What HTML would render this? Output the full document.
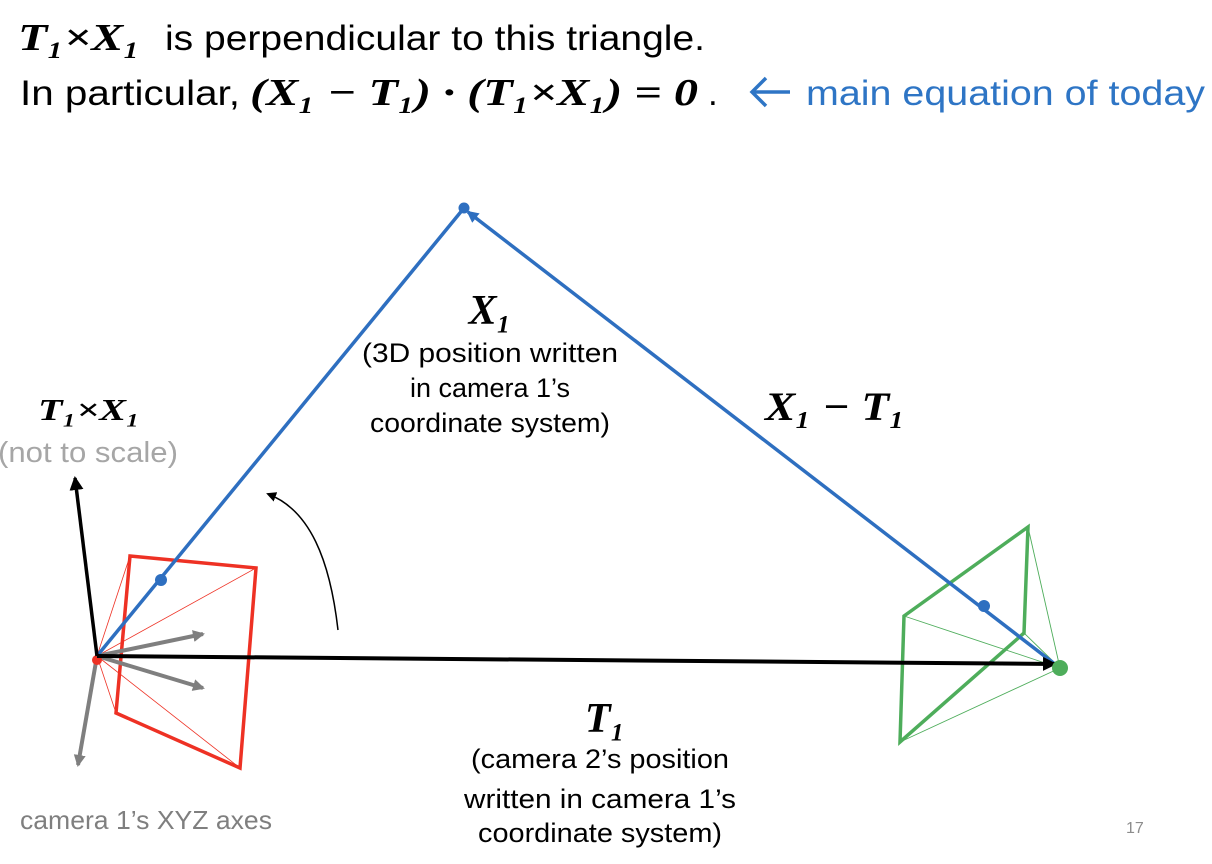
<!DOCTYPE html>
<html><head><meta charset="utf-8"><style>
html,body{margin:0;padding:0;background:#fff;}
svg{display:block;}
text{font-family:"Liberation Sans",sans-serif;}
.m{font-family:"Liberation Serif",serif;font-weight:bold;font-style:italic;}
</style></head><body>
<svg width="1212" height="864" viewBox="0 0 1212 864">
<defs>
<marker id="ab" markerWidth="10" markerHeight="10" refX="8" refY="5" orient="auto" markerUnits="userSpaceOnUse"><path d="M0,0 L10,5 L0,10 Z" fill="#000"/></marker>
<marker id="ag" markerWidth="12" markerHeight="12" refX="10" refY="6" orient="auto" markerUnits="userSpaceOnUse"><path d="M0,0 L12,6 L0,12 Z" fill="#7f7f7f"/></marker>
<marker id="abl" markerWidth="12" markerHeight="12" refX="10" refY="6" orient="auto" markerUnits="userSpaceOnUse"><path d="M0,0 L12,6 L0,12 Z" fill="#2E6FC0"/></marker>
<marker id="ak" markerWidth="14" markerHeight="14" refX="12" refY="7" orient="auto" markerUnits="userSpaceOnUse"><path d="M0,0 L14,7 L0,14 Z" fill="#000"/></marker>
</defs>

<g>
<text x="18" y="50" font-size="38" class="m" textLength="122" lengthAdjust="spacingAndGlyphs">T₁×X₁</text>
<text x="165" y="50" font-size="35" textLength="540" lengthAdjust="spacingAndGlyphs">is perpendicular to this triangle.</text>
<text x="20" y="105" font-size="35" textLength="220" lengthAdjust="spacingAndGlyphs">In particular,</text>
<text x="250" y="105" font-size="38" class="m" textLength="448" lengthAdjust="spacingAndGlyphs">(X₁ − T₁) · (T₁×X₁) = 0</text>
<text x="708" y="105" font-size="35">.</text>
<g stroke="#2E75C5" stroke-width="3.5" fill="none">
<line x1="752" y1="92" x2="790" y2="92"/><polyline points="766,78 752,92 766,106"/>
</g>
<text x="806" y="105" font-size="35" fill="#2E75C5" textLength="399" lengthAdjust="spacingAndGlyphs">main equation of today</text>
</g>

<g>
<polygon points="130,556 256,568 240,768 116,713" fill="none" stroke="#EE3124" stroke-width="3.5"/>
<g stroke="#EE3124" stroke-width="0.8">
<line x1="97" y1="656" x2="130" y2="556"/><line x1="97" y1="656" x2="256" y2="568"/>
<line x1="97" y1="656" x2="240" y2="768"/><line x1="97" y1="656" x2="116" y2="713"/>
</g>
<g stroke="#7f7f7f" stroke-width="4">
<line x1="97" y1="656" x2="203" y2="634" marker-end="url(#ag)"/>
<line x1="97" y1="656" x2="203" y2="688" marker-end="url(#ag)"/>
<line x1="97" y1="656" x2="78" y2="765" marker-end="url(#ag)"/>
</g>
<circle cx="97" cy="660" r="5" fill="#EE3124"/>
</g>

<g>
<polygon points="904,616 1028,527 1024,633 900,742" fill="none" stroke="#4EAD5B" stroke-width="3.5"/>
<g stroke="#4EAD5B" stroke-width="0.9">
<line x1="1060" y1="668" x2="904" y2="616"/><line x1="1060" y1="668" x2="1028" y2="527"/>
<line x1="1060" y1="668" x2="1024" y2="633"/><line x1="1060" y1="668" x2="900" y2="742"/>
</g>
</g>

<line x1="97" y1="656" x2="464" y2="208" stroke="#2E6FC0" stroke-width="3.5"/>
<line x1="1060" y1="668" x2="468" y2="212" stroke="#2E6FC0" stroke-width="3.5" marker-end="url(#abl)"/>
<circle cx="464" cy="208" r="5.5" fill="#2E6FC0"/>
<circle cx="161" cy="580" r="6" fill="#2E6FC0"/>
<circle cx="984" cy="606" r="6" fill="#2E6FC0"/>

<line x1="97" y1="656" x2="1055" y2="664" stroke="#000" stroke-width="4" marker-end="url(#ak)"/>
<line x1="97" y1="656" x2="75" y2="478" stroke="#000" stroke-width="3.5" marker-end="url(#ak)"/>
<path d="M338,630 C330,560 310,510 268,494" fill="none" stroke="#000" stroke-width="1.5" marker-end="url(#ab)"/>
<circle cx="1060" cy="668" r="8" fill="#4EAD5B"/>

<text x="490" y="324" font-size="42" class="m" text-anchor="middle">X₁</text>
<g font-size="27" text-anchor="middle">
<text x="490" y="362" textLength="256" lengthAdjust="spacingAndGlyphs">(3D position written</text>
<text x="490" y="397" textLength="160" lengthAdjust="spacingAndGlyphs">in camera 1’s</text>
<text x="490" y="432" textLength="240" lengthAdjust="spacingAndGlyphs">coordinate system)</text>
</g>
<text x="765" y="420" font-size="40" class="m" textLength="140" lengthAdjust="spacingAndGlyphs">X₁ − T₁</text>
<text x="38" y="420" font-size="31" class="m" textLength="102" lengthAdjust="spacingAndGlyphs">T₁×X₁</text>
<text x="-2" y="462" font-size="29" fill="#A6A6A6" textLength="180" lengthAdjust="spacingAndGlyphs">(not to scale)</text>
<text x="605" y="732" font-size="42" class="m" text-anchor="middle">T₁</text>
<g font-size="27" text-anchor="middle">
<text x="600" y="768" textLength="258" lengthAdjust="spacingAndGlyphs">(camera 2’s position</text>
<text x="600" y="808" textLength="272" lengthAdjust="spacingAndGlyphs">written in camera 1’s</text>
<text x="600" y="842" textLength="244" lengthAdjust="spacingAndGlyphs">coordinate system)</text>
</g>
<text x="20" y="829" font-size="26" fill="#7f7f7f" textLength="252" lengthAdjust="spacingAndGlyphs">camera 1’s XYZ axes</text>
<text x="1126" y="833" font-size="16" fill="#8c8c8c">17</text>
</svg>
</body></html>
